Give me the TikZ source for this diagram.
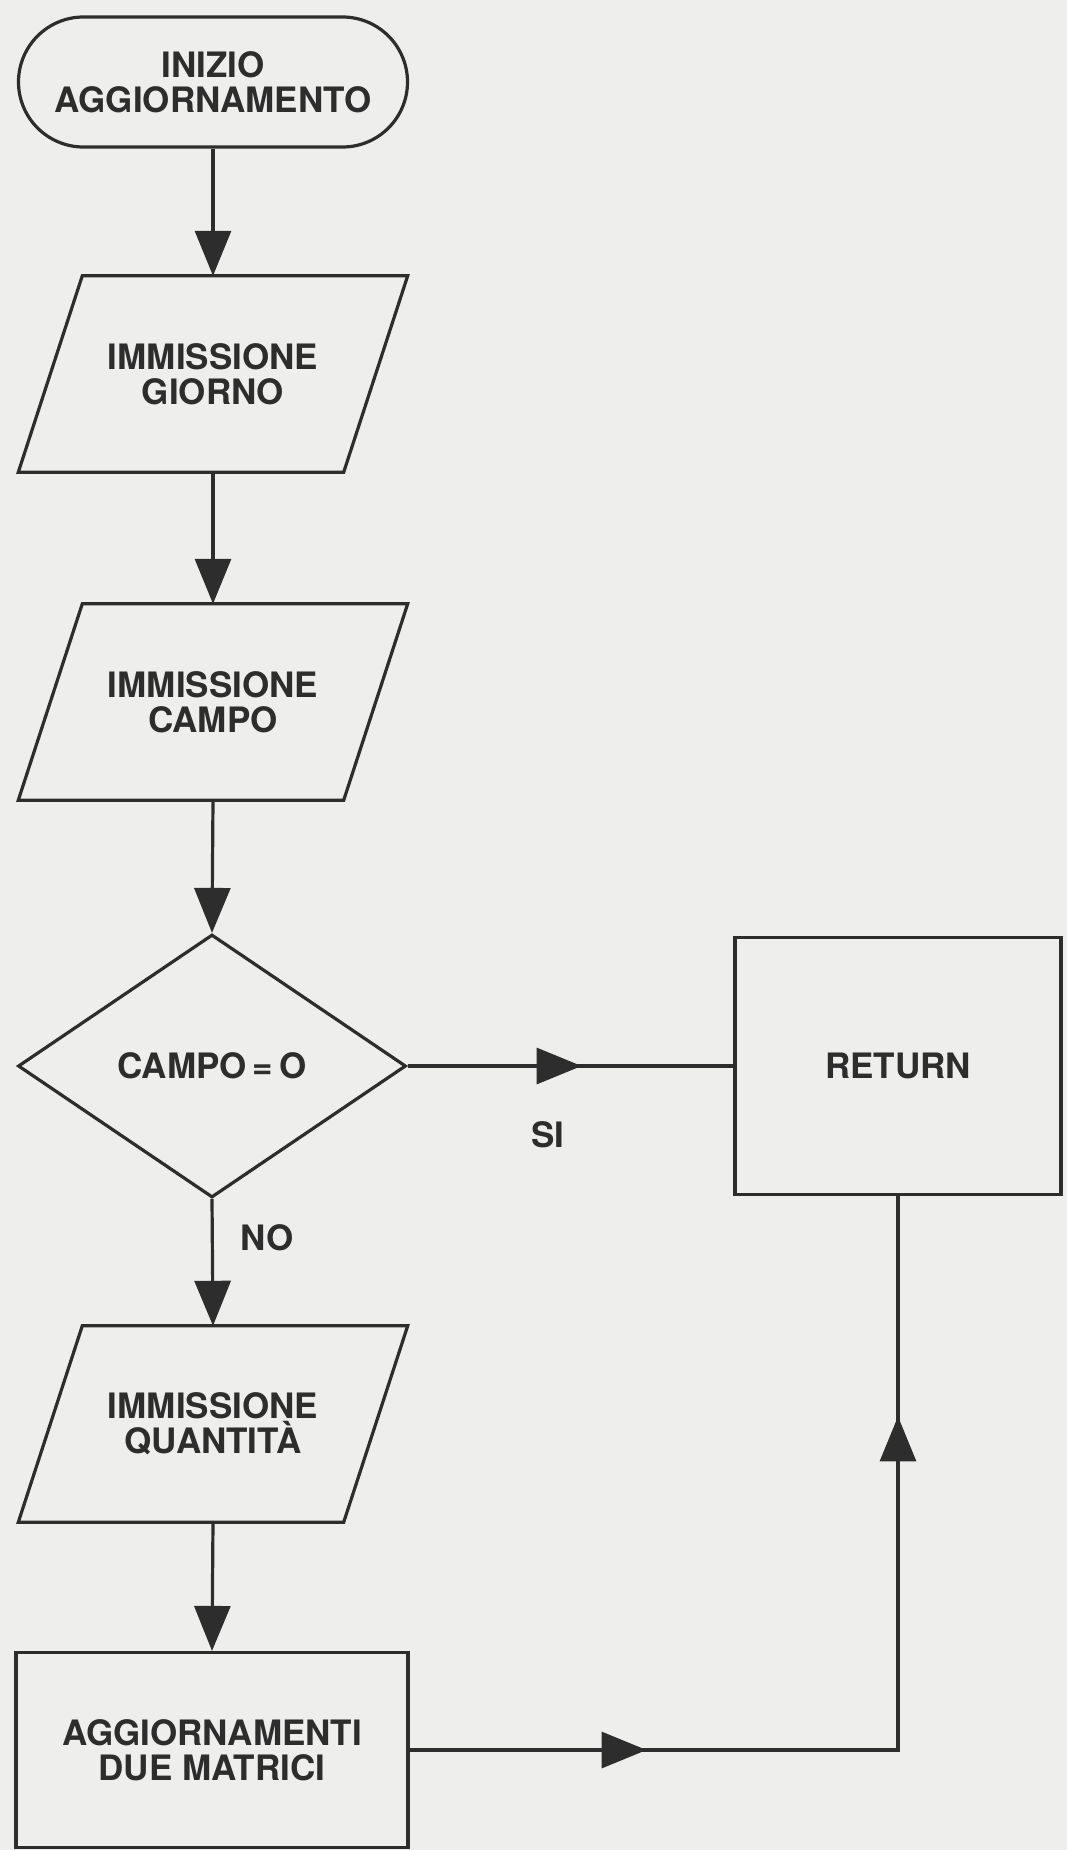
\documentclass[tikz,border=0pt]{standalone}
\usepackage{fontspec}
\setmainfont{TeX Gyre Heros}
\usetikzlibrary{arrows.meta,shapes.geometric,decorations.markings}
\definecolor{paper}{RGB}{238,238,236}
\definecolor{ink}{RGB}{45,45,45}
\begin{document}
\begin{tikzpicture}[x=1pt,y=-1pt,
  every node/.style={font=\fontsize{35}{35}\selectfont\bfseries, text=ink, align=center},
  outline/.style={draw=ink, line width=3.2pt},
  terminal/.style={outline, rectangle, rounded corners=65pt,
    minimum width=389pt, minimum height=130pt, inner sep=0pt},
  iobox/.style={rectangle, minimum width=325pt, minimum height=196pt, inner sep=0pt},
  decision/.style={outline, diamond, aspect=1.475,
    minimum width=388pt, minimum height=263pt, inner sep=0pt},
  process/.style={outline, rectangle, inner sep=0pt},
  tip/.style={-{Triangle[length=45pt,width=36pt]}},
  flow/.style={draw=ink, color=ink, line width=3.2pt, tip},
  plain/.style={draw=ink, color=ink, line width=3.2pt},
  midarrow/.style={postaction=decorate, decoration={markings,
    mark=at position #1 with {\arrow{Triangle[length=45pt,width=36pt]}}}},
  twoarrows/.style 2 args={postaction=decorate, decoration={markings,
    mark=at position #1 with {\arrow{Triangle[length=45pt,width=36pt]}},
    mark=at position #2 with {\arrow{Triangle[length=45pt,width=36pt]}}}},
]
\fill[paper] (0,0) rectangle (1067,1850);
\useasboundingbox (0,0) rectangle (1067,1850);

% flow chart nodes
\node[terminal] (start) at (213,82) {INIZIO\\AGGIORNAMENTO};
\node[iobox] (giorno) at (213,374) {IMMISSIONE\\GIORNO};
\node[iobox] (campo) at (213,702) {IMMISSIONE\\CAMPO};
\node[decision] (test) at (212,1066) {CAMPO\,=\,O};
\node[process, minimum width=326pt, minimum height=257pt] (ret) at (898,1066) {RETURN};
\node[iobox] (quant) at (213,1424) {IMMISSIONE\\QUANTIT\`A};
\node[process, minimum width=392pt, minimum height=195pt] (upd) at (212,1750) {AGGIORNAMENTI\\DUE MATRICI};

% input/output parallelograms around the iobox nodes
\foreach \n in {giorno,campo,quant}
  \draw[outline, line join=miter]
    ([xshift=32pt]\n.north west) -- ([xshift=32pt]\n.north east)
    -- ([xshift=-32pt]\n.south east) -- ([xshift=-32pt]\n.south west) -- cycle;

% branch labels
\node (si) at (548,1135) {SI};
\node (no) at (267,1238) {NO};

% connectors
\draw[flow] (start.south) -- (giorno.north);
\draw[flow] (giorno.south) -- (campo.north);
\draw[flow] (campo.south) -- (test.north);
\draw[flow] (test.south) -- (quant.north);
\draw[flow] (quant.south) -- (upd.north);
\draw[plain, midarrow=174pt] (test.east) -- (ret.west);
\draw[plain, twoarrows={237pt}{822pt}] (upd.east) -| (ret.south);
\end{tikzpicture}
\end{document}
